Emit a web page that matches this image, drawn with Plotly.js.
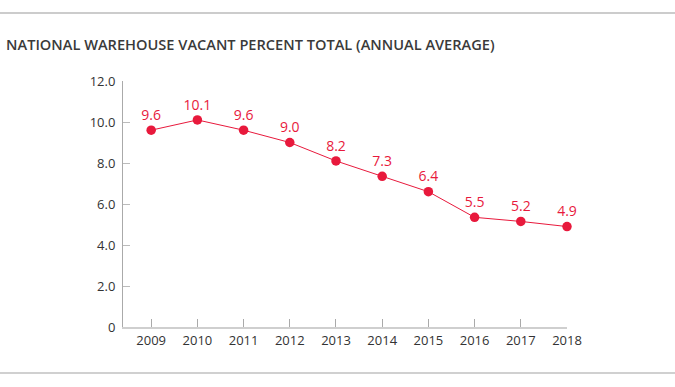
<!DOCTYPE html>
<html>
<head>
<meta charset="utf-8">
<script src="https://cdn.plot.ly/plotly-3.0.1.min.js"></script>
<style>html,body{margin:0;padding:0;background:#fff;}#chart{width:675px;height:387px;}</style>
</head>
<body>
<div id="chart"></div>
<script>
var years = [2009, 2010, 2011, 2012, 2013, 2014, 2015, 2016, 2017, 2018];
var vacancy = [9.6, 10.1, 9.6, 9.0, 8.1, 7.35, 6.6, 5.35, 5.15, 4.9];
var valueLabels = ["9.6", "10.1", "9.6", "9.0", "8.2", "7.3", "6.4", "5.5", "5.2", "4.9"];
var yTickVals = [0, 2, 4, 6, 8, 10, 12];
var yTickText = ["0", "2.0", "4.0", "6.0", "8.0", "10.0", "12.0"];
var chartTitle = "NATIONAL WAREHOUSE VACANT PERCENT TOTAL (ANNUAL AVERAGE)";

var red = "#e8193c";
var trace = {
  x: years, y: vacancy, text: valueLabels,
  type: "scatter", mode: "lines+markers+text",
  textposition: "top center",
  textfont: {family: "Open Sans, sans-serif", size: 14, color: red},
  line: {color: red, width: 1},
  marker: {color: red, size: 9.5},
  cliponaxis: false, hoverinfo: "none"
};

var layout = {
  width: 675, height: 387,
  margin: {l: 123, r: 108, t: 81, b: 60},
  paper_bgcolor: "#fff", plot_bgcolor: "#fff",
  showlegend: false,
  font: {family: "Open Sans, sans-serif", color: "#333"},
  title: {
    text: chartTitle,
    x: 0.009, xanchor: "left", xref: "container",
    y: 0.884, yanchor: "middle", yref: "container",
    font: {family: "Open Sans, sans-serif", size: 14.6, color: "#3a3a3a", weight: 600}
  },
  xaxis: {
    range: [2008.39, 2018], tickvals: years, ticktext: years.map(String),
    showgrid: false, zeroline: false, showline: true, linecolor: "#cfcfcf", linewidth: 2,
    ticks: "inside", ticklen: 8, tickcolor: "#aaa", tickwidth: 1,
    tickfont: {size: 13, color: "#333"}, fixedrange: true
  },
  yaxis: {
    range: [0, 12], tickvals: yTickVals, ticktext: yTickText,
    showgrid: false, zeroline: false, showline: true, linecolor: "#aaa", linewidth: 1,
    ticks: "inside", ticklen: 7, tickcolor: "#bbb", tickwidth: 1,
    tickfont: {size: 13, color: "#333"}, ticklabelstandoff: 4, fixedrange: true
  },
  shapes: [
    {type: "line", xref: "paper", yref: "paper", x0: -0.3, x1: 1.3, y0: 1.2764, y1: 1.2764, line: {color: "#999", width: 1}},
    {type: "line", xref: "paper", yref: "paper", x0: -0.3, x1: 1.3, y0: -0.187, y1: -0.187, line: {color: "#d0d0d0", width: 2}}
  ]
};

Plotly.newPlot("chart", [trace], layout, {displayModeBar: false, staticPlot: true});
</script>
</body>
</html>
